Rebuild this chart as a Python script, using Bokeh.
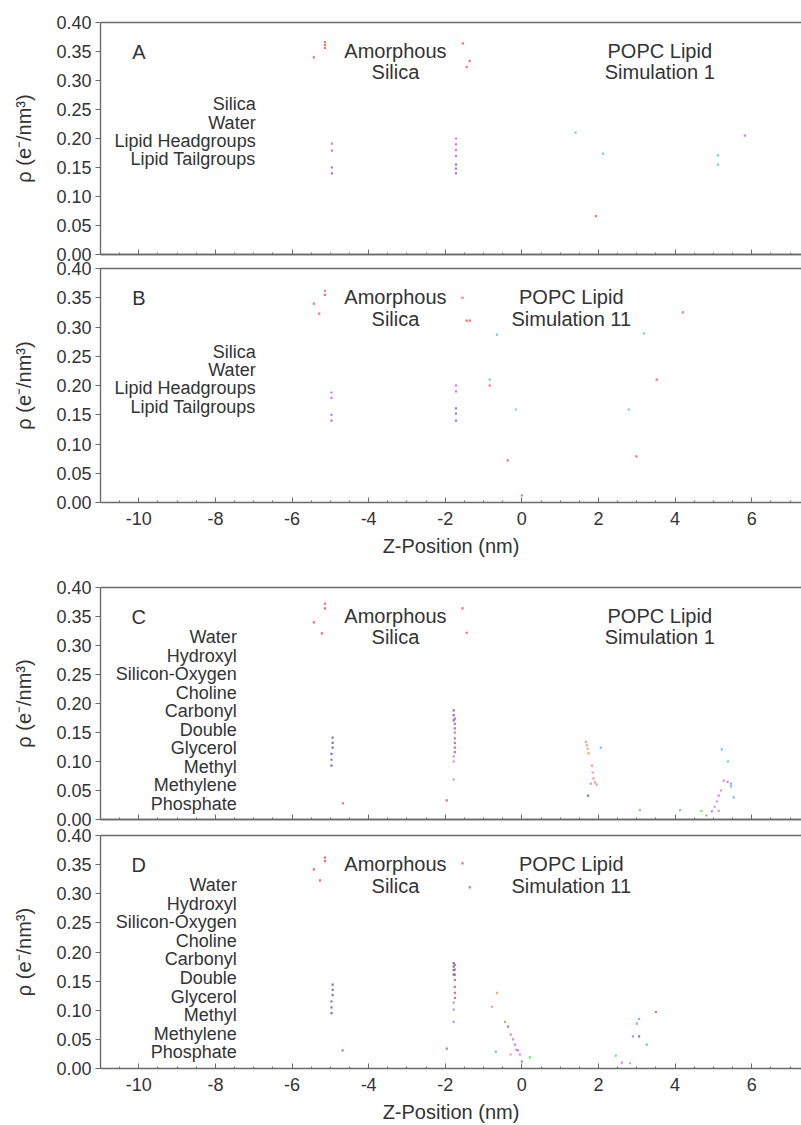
from bokeh.plotting import figure
from bokeh.layouts import column
from bokeh.models import FixedTicker, LinearAxis, Label, PrintfTickFormatter, Range1d
from bokeh.embed import file_html
from bokeh.resources import INLINE

# ---------------- data ----------------
Y_TICKS = [0.0, 0.05, 0.10, 0.15, 0.20, 0.25, 0.30, 0.35, 0.40]
X_MAJOR = [-10, -8, -6, -4, -2, 0, 2, 4, 6]
X_MINOR = [-11.0, -10.5, -9.5, -9.0, -8.5, -7.5, -7.0, -6.5, -5.5, -5.0, -4.5,
           -3.5, -3.0, -2.5, -1.5, -1.0, -0.5, 0.5, 1.0, 1.5, 2.5, 3.0, 3.5,
           4.5, 5.0, 5.5, 6.5, 7.0]

LEGEND_AB = ["Silica", "Water", "Lipid Headgroups", "Lipid Tailgroups"]
LEGEND_CD = ["Water", "Hydroxyl", "Silicon-Oxygen", "Choline", "Carbonyl",
             "Double", "Glycerol", "Methyl", "Methylene", "Phosphate"]

# Panel A (simulation 1, grouped)
A_silica_z = [-5.14, -5.14, -5.14, -5.43, -1.54, -1.36, -1.44, 1.93]
A_silica_rho = [0.356, 0.361, 0.366, 0.340, 0.364, 0.334, 0.323, 0.066]
A_water_z = [1.40, 2.12, 5.12, 5.12]
A_water_rho = [0.210, 0.174, 0.171, 0.155]
A_head_z = [-4.96, -4.96, -1.72, -1.72, -1.72, -1.72, 5.82]
A_head_rho = [0.191, 0.179, 0.200, 0.190, 0.180, 0.170, 0.205]
A_tail_z = [-4.96, -4.96, -1.72, -1.72, -1.72]
A_tail_rho = [0.150, 0.140, 0.155, 0.148, 0.140]

# Panel B (simulation 11, grouped)
B_silica_z = [-5.14, -5.14, -5.43, -5.29, -1.55, -1.44, -1.36, -0.84, -0.37, 4.20, 3.52, 2.99, 0.00]
B_silica_rho = [0.355, 0.362, 0.340, 0.323, 0.350, 0.311, 0.311, 0.200, 0.072, 0.325, 0.210, 0.079, 0.012]
B_water_z = [-0.65, -0.84, -0.16, 3.19, 2.79]
B_water_rho = [0.287, 0.210, 0.159, 0.289, 0.159]
B_head_z = [-4.97, -4.97, -1.72, -1.72]
B_head_rho = [0.188, 0.179, 0.200, 0.190]
B_tail_z = [-4.97, -4.97, -1.72, -1.72, -1.72]
B_tail_rho = [0.150, 0.140, 0.161, 0.152, 0.140]

# Panel C (simulation 1, by group)
C_water_z = [-5.14, -5.14, -5.43, -5.22, -1.55, -1.44]
C_water_rho = [0.364, 0.372, 0.340, 0.321, 0.364, 0.322]
C_hydroxyl_z = [1.67, 1.70, 1.72, 1.74, 1.83, 1.85, 1.87, 1.91, 1.95, 5.14]
C_hydroxyl_rho = [0.134, 0.128, 0.122, 0.114, 0.093, 0.081, 0.071, 0.064, 0.060, 0.015]
C_sio_z = [-1.78, -1.78, -1.78, -4.94, -4.94, -4.94, -4.97, -4.97, -4.97, 1.73]
C_sio_rho = [0.188, 0.180, 0.171, 0.141, 0.132, 0.124, 0.113, 0.103, 0.093, 0.041]
C_choline_z = [2.06, 5.22, 5.38]
C_choline_rho = [0.124, 0.121, 0.100]
C_carbonyl_z = [1.80, 5.46, 5.46, 5.53]
C_carbonyl_rho = [0.062, 0.062, 0.057, 0.038]
C_double_z = [4.69, 4.13, 3.08]
C_double_rho = [0.015, 0.016, 0.016]
C_glycerol_z = [-1.75, -1.75, -1.75, -1.75, -1.75, -1.75, -1.75, -1.75, -1.96, -4.67]
C_glycerol_rho = [0.174, 0.165, 0.157, 0.150, 0.140, 0.132, 0.124, 0.116, 0.033, 0.028]
C_methyl_z = [-1.78, -1.78, -1.78]
C_methyl_rho = [0.109, 0.100, 0.069]
C_methylene_z = [5.27, 5.37, 5.20, 5.14, 5.09, 5.03, 4.96]
C_methylene_rho = [0.067, 0.065, 0.050, 0.041, 0.031, 0.022, 0.014]
C_phosphate_z = [4.82]
C_phosphate_rho = [0.007]

# Panel D (simulation 11, by group)
D_water_z = [-5.14, -5.14, -5.43, -5.27, -1.55, -1.36, 3.50]
D_water_rho = [0.356, 0.362, 0.342, 0.323, 0.352, 0.311, 0.097]
D_hydroxyl_z = [-0.65, -0.78, -0.29, 2.82]
D_hydroxyl_rho = [0.130, 0.106, 0.024, 0.009]
D_sio_z = [-1.78, -1.78, -1.78, -1.78, -4.94, -4.94, -4.94, -4.97, -4.97, -4.97, 3.06]
D_sio_rho = [0.181, 0.175, 0.169, 0.161, 0.144, 0.135, 0.126, 0.115, 0.105, 0.095, 0.055]
D_choline_z = [3.06]
D_choline_rho = [0.085]
D_carbonyl_z = [-0.68, 3.26]
D_carbonyl_rho = [0.029, 0.041]
D_double_z = [0.21, 2.45]
D_double_rho = [0.019, 0.022]
D_glycerol_z = [-1.75, -1.75, -1.75, -1.75, -1.75, -1.75, -1.75, -1.96, -4.68, 0.00, -0.36]
D_glycerol_rho = [0.178, 0.170, 0.161, 0.152, 0.140, 0.130, 0.121, 0.034, 0.031, 0.012, 0.072]
D_methyl_z = [-1.78, -1.78, -1.78]
D_methyl_rho = [0.113, 0.101, 0.080]
D_methylene_z = [-0.29, -0.23, -0.18, -0.14, -0.10, -0.05, 2.90, 3.00, 2.61]
D_methylene_rho = [0.058, 0.050, 0.041, 0.032, 0.031, 0.024, 0.055, 0.077, 0.010]
D_phosphate_z = [-0.44]
D_phosphate_rho = [0.080]

# ---------------- style ----------------
FONT = "Liberation Sans"
FS_TICK = "18px"
FS_LEG = "18px"
FS_ANN = "20px"
FS_TITLE = "20px"
AX = "#6a6a6a"
TXT = "#333333"

COL_AB = {"silica": "#ff3b3b", "water": "#35c6d6", "head": "#d04bd0", "tail": "#8a48e0"}
COL_CD = {"water": "#ff3030", "hydroxyl": "#ff7a5a", "sio": "#4a4ac0", "choline": "#22c4e4",
          "carbonyl": "#4aa0ff", "double": "#44dd44", "glycerol": "#c84848", "methyl": "#a870e8",
          "methylene": "#d85ad8", "phosphate": "#a0a040"}


def style_axis_line(ax):
    ax.axis_line_color = AX
    ax.axis_line_width = 1.4
    ax.major_tick_line_color = AX
    ax.minor_tick_line_color = AX


def make_panel(height, btop, bbot, show_x):
    p = figure(width=801, height=height, x_range=Range1d(-11.0, 7.3), y_range=Range1d(0.0, 0.40),
               output_backend="svg", toolbar_location=None,
               min_border_left=100, min_border_right=0, min_border_top=btop, min_border_bottom=bbot)
    p.grid.visible = False
    p.outline_line_color = None

    xa = p.xaxis[0]
    style_axis_line(xa)
    xa.major_tick_out = 0
    xa.minor_tick_out = 0
    xa.minor_tick_in = 2
    if show_x:
        xa.ticker = FixedTicker(ticks=X_MAJOR, minor_ticks=X_MINOR)
        xa.formatter = PrintfTickFormatter(format="%d")
        xa.major_tick_in = 5
        xa.major_label_text_font = FONT
        xa.major_label_text_font_size = FS_TICK
        xa.major_label_text_color = TXT
        xa.major_label_standoff = 9
        xa.axis_label = "Z-Position (nm)"
        xa.axis_label_text_font = FONT
        xa.axis_label_text_font_size = FS_TITLE
        xa.axis_label_text_font_style = "normal"
        xa.axis_label_text_color = TXT
        xa.axis_label_standoff = 7
    else:
        # unlabeled bottom axis: minor ticks on the default axis, major ticks on a zero-size twin
        xa.ticker = FixedTicker(ticks=[], minor_ticks=X_MINOR)
        xa.major_tick_in = 0
        xa.major_label_standoff = 0
        twin = LinearAxis(ticker=FixedTicker(ticks=[], minor_ticks=X_MAJOR),
                          major_tick_in=0, major_tick_out=0, minor_tick_in=5, minor_tick_out=0,
                          major_label_standoff=0)
        style_axis_line(twin)
        p.add_layout(twin, "below")

    ya = p.yaxis[0]
    style_axis_line(ya)
    ya.ticker = FixedTicker(ticks=Y_TICKS, minor_ticks=[])
    ya.formatter = PrintfTickFormatter(format="%.2f")
    ya.major_tick_out = 5
    ya.major_tick_in = 0
    ya.minor_tick_line_color = None
    ya.major_label_text_font = FONT
    ya.major_label_text_font_size = FS_TICK
    ya.major_label_text_color = TXT
    ya.major_label_standoff = 4
    ya.axis_label = "\u03c1 (e\u207b/nm\u00b3)"
    ya.axis_label_text_font = FONT
    ya.axis_label_text_font_size = FS_TITLE
    ya.axis_label_text_font_style = "normal"
    ya.axis_label_text_color = TXT
    ya.axis_label_standoff = 18

    top = LinearAxis(ticker=FixedTicker(ticks=[]), major_label_standoff=0,
                     major_tick_in=0, major_tick_out=0, minor_tick_in=0, minor_tick_out=0)
    style_axis_line(top)
    p.add_layout(top, "above")
    return p


def add_label(p, x, y, text, size, align="center"):
    p.add_layout(Label(x=x, y=y, text=text, text_align=align, text_baseline="middle",
                       text_font=FONT, text_font_size=size, text_color=TXT))


def add_points(p, z, rho, color):
    p.scatter(z, rho, marker="square", size=2.2, fill_color=color, line_color=None, alpha=0.75)


def decorate(p, letter, sim, popc_x, legend, legend_x, legend_y0, legend_step):
    add_label(p, -10.0, 0.350, letter, FS_ANN)
    add_label(p, -3.3, 0.351, "Amorphous", FS_ANN)
    add_label(p, -3.3, 0.314, "Silica", FS_ANN)
    add_label(p, popc_x, 0.351, "POPC Lipid", FS_ANN)
    add_label(p, popc_x, 0.314, sim, FS_ANN)
    for i, t in enumerate(legend):
        add_label(p, legend_x, legend_y0 - i * legend_step, t, FS_LEG, align="right")


pA = make_panel(261, 22, 7, False)
decorate(pA, "A", "Simulation 1", 3.6, LEGEND_AB, -6.95, 0.259, 0.0315)
add_points(pA, A_silica_z, A_silica_rho, COL_AB["silica"])
add_points(pA, A_water_z, A_water_rho, COL_AB["water"])
add_points(pA, A_head_z, A_head_rho, COL_AB["head"])
add_points(pA, A_tail_z, A_tail_rho, COL_AB["tail"])

pB = make_panel(317, 7, 76, True)
decorate(pB, "B", "Simulation 11", 1.29, LEGEND_AB, -6.95, 0.258, 0.0315)
add_points(pB, B_silica_z, B_silica_rho, COL_AB["silica"])
add_points(pB, B_water_z, B_water_rho, COL_AB["water"])
add_points(pB, B_head_z, B_head_rho, COL_AB["head"])
add_points(pB, B_tail_z, B_tail_rho, COL_AB["tail"])

pC = make_panel(249, 9, 8, False)
decorate(pC, "C", "Simulation 1", 3.6, LEGEND_CD, -7.44, 0.314, 0.0319)
C_series = [(C_water_z, C_water_rho, "water"), (C_hydroxyl_z, C_hydroxyl_rho, "hydroxyl"),
            (C_sio_z, C_sio_rho, "sio"), (C_choline_z, C_choline_rho, "choline"),
            (C_carbonyl_z, C_carbonyl_rho, "carbonyl"), (C_double_z, C_double_rho, "double"),
            (C_glycerol_z, C_glycerol_rho, "glycerol"), (C_methyl_z, C_methyl_rho, "methyl"),
            (C_methylene_z, C_methylene_rho, "methylene"), (C_phosphate_z, C_phosphate_rho, "phosphate")]
for z, r, k in C_series:
    add_points(pC, z, r, COL_CD[k])

pD = make_panel(298, 8, 56, True)
decorate(pD, "D", "Simulation 11", 1.29, LEGEND_CD, -7.44, 0.315, 0.0319)
D_series = [(D_water_z, D_water_rho, "water"), (D_hydroxyl_z, D_hydroxyl_rho, "hydroxyl"),
            (D_sio_z, D_sio_rho, "sio"), (D_choline_z, D_choline_rho, "choline"),
            (D_carbonyl_z, D_carbonyl_rho, "carbonyl"), (D_double_z, D_double_rho, "double"),
            (D_glycerol_z, D_glycerol_rho, "glycerol"), (D_methyl_z, D_methyl_rho, "methyl"),
            (D_methylene_z, D_methylene_rho, "methylene"), (D_phosphate_z, D_phosphate_rho, "phosphate")]
for z, r, k in D_series:
    add_points(pD, z, r, COL_CD[k])

layout = column(pA, pB, pC, pD, spacing=0)
open("out.html", "w").write(file_html(layout, INLINE))
